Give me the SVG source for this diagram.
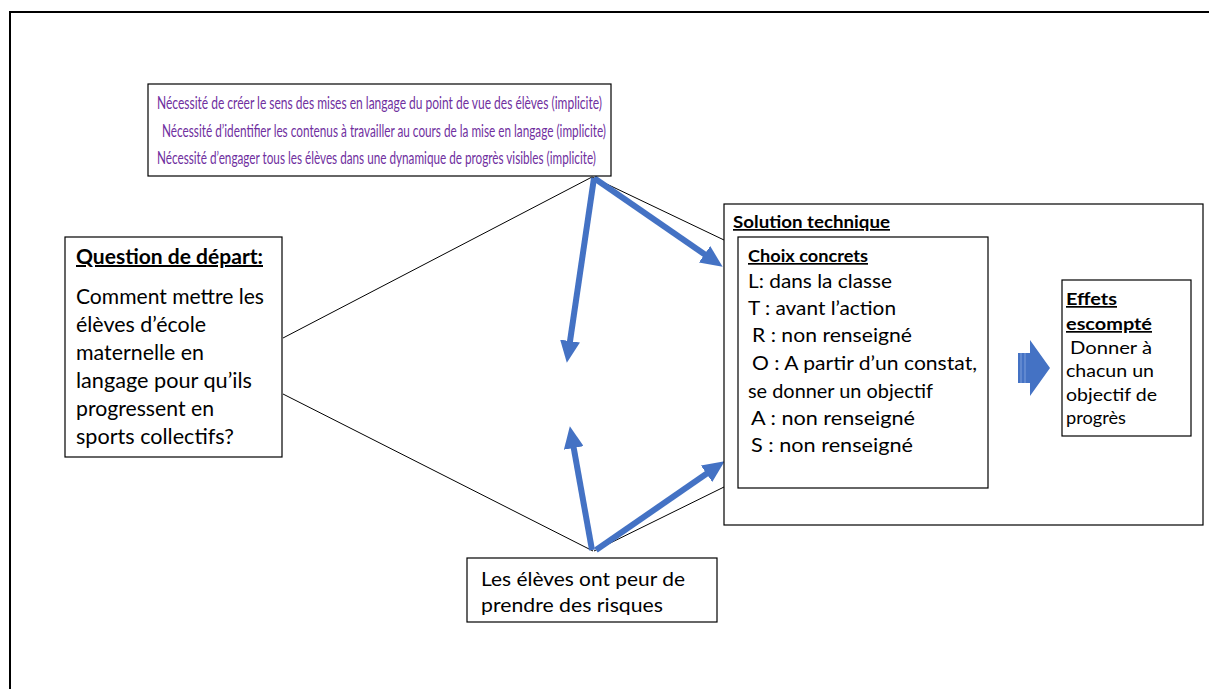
<svg xmlns="http://www.w3.org/2000/svg" width="1209" height="689" viewBox="0 0 1209 689">
<defs>
<style>
.box{fill:#fff;stroke:#000;stroke-width:1.2}
.t{font-family:Lato,"Open Sans","Liberation Sans",sans-serif;fill:#000}
.p{fill:#7030A0;font-size:18px}
.b{font-weight:bold;text-decoration:underline}
.thin{stroke:#000;stroke-width:1;fill:none}
.blue{stroke:#4472C4;stroke-width:6;fill:none;marker-end:url(#ah)}
</style>
<marker id="ah" markerUnits="userSpaceOnUse" markerWidth="24" markerHeight="20" refX="3" refY="10" orient="auto">
<path d="M0,0 L22,10 L0,20 z" fill="#4472C4"/>
</marker>
</defs>
<rect width="1209" height="689" fill="#fff"/>
<path d="M10,700 L10,12 L1220,12" fill="none" stroke="#000" stroke-width="2"/>

<g id="connectors">
<line class="thin" x1="283" y1="338" x2="592" y2="177"/>
<line class="thin" x1="283" y1="394" x2="593" y2="551"/>
<line class="thin" x1="592" y1="177" x2="724" y2="240"/>
<line class="thin" x1="594" y1="551" x2="724" y2="487"/>
<line class="blue" x1="594" y1="178" x2="707" y2="256"/>
<line class="blue" x1="594" y1="178" x2="569.6" y2="344"/>
<line class="blue" x1="592" y1="550" x2="573.2" y2="445"/>
<line class="blue" x1="596" y1="550" x2="709" y2="472"/>
</g>

<g id="top">
<rect class="box" x="148" y="84" width="463" height="92"/>
<text class="t p" x="157" y="109" textLength="445" lengthAdjust="spacingAndGlyphs">Nécessité de créer le sens des mises en langage du point de vue des élèves (implicite)</text>
<text class="t p" x="162" y="137" textLength="444" lengthAdjust="spacingAndGlyphs">Nécessité d’identifier les contenus à travailler au cours de la mise en langage (implicite)</text>
<text class="t p" x="157" y="164" textLength="439" lengthAdjust="spacingAndGlyphs">Nécessité d’engager tous les élèves dans une dynamique de progrès visibles (implicite)</text>
</g>

<g id="question">
<rect class="box" x="65" y="237" width="217" height="220"/>
<text class="t b" x="76" y="264" font-size="20" textLength="187" lengthAdjust="spacingAndGlyphs">Question de départ:</text>
<g class="t" font-size="21">
<text x="76" y="304" textLength="188" lengthAdjust="spacingAndGlyphs">Comment mettre les</text>
<text x="76" y="332" textLength="130" lengthAdjust="spacingAndGlyphs">élèves d’école</text>
<text x="76" y="360" textLength="128" lengthAdjust="spacingAndGlyphs">maternelle en</text>
<text x="76" y="388" textLength="176" lengthAdjust="spacingAndGlyphs">langage pour qu’ils</text>
<text x="76" y="416" textLength="138" lengthAdjust="spacingAndGlyphs">progressent en</text>
<text x="76" y="444" textLength="158" lengthAdjust="spacingAndGlyphs">sports collectifs?</text>
</g>
</g>

<g id="solution">
<rect class="box" x="724" y="204" width="479" height="321"/>
<text class="t b" x="733" y="228" font-size="17" textLength="157" lengthAdjust="spacingAndGlyphs">Solution  technique</text>
</g>

<g id="choix">
<rect class="box" x="738" y="237" width="250" height="251"/>
<text class="t b" x="748" y="262" font-size="17" textLength="120" lengthAdjust="spacingAndGlyphs">Choix  concrets</text>
<g class="t" font-size="20">
<text x="748" y="288" textLength="144" lengthAdjust="spacingAndGlyphs">L: dans la classe</text>
<text x="748" y="315" textLength="148" lengthAdjust="spacingAndGlyphs">T : avant l’action</text>
<text x="752" y="342" textLength="160" lengthAdjust="spacingAndGlyphs">R : non renseigné</text>
<text x="752" y="370" textLength="225" lengthAdjust="spacingAndGlyphs">O : A partir d’un constat,</text>
<text x="748" y="398" textLength="185" lengthAdjust="spacingAndGlyphs">se donner un objectif</text>
<text x="751" y="425" textLength="164" lengthAdjust="spacingAndGlyphs">A : non renseigné</text>
<text x="751" y="452" textLength="162" lengthAdjust="spacingAndGlyphs">S : non renseigné</text>
</g>
</g>

<g id="bigarrow">
<polygon points="1018,353 1030,353 1030,340 1050,368 1030,396 1030,383 1018,383" fill="#4472C4"/>
<line x1="1021" y1="353" x2="1021" y2="383" stroke="#7c9edb" stroke-width="1"/>
<line x1="1025" y1="353" x2="1025" y2="383" stroke="#7c9edb" stroke-width="1"/>
</g>

<g id="effets">
<rect class="box" x="1062" y="280" width="129" height="156"/>
<text class="t b" x="1066" y="305" font-size="17" textLength="51" lengthAdjust="spacingAndGlyphs">Effets</text>
<text class="t b" x="1066" y="330" font-size="17" textLength="86" lengthAdjust="spacingAndGlyphs">escompté</text>
<g class="t" font-size="17">
<text x="1070" y="354" textLength="82" lengthAdjust="spacingAndGlyphs">Donner à</text>
<text x="1066" y="377" textLength="88" lengthAdjust="spacingAndGlyphs">chacun un</text>
<text x="1066" y="401" textLength="91" lengthAdjust="spacingAndGlyphs">objectif de</text>
<text x="1066" y="424" textLength="60" lengthAdjust="spacingAndGlyphs">progrès</text>
</g>
</g>

<g id="bottom">
<rect class="box" x="467" y="558" width="250" height="64"/>
<g class="t" font-size="20">
<text x="481" y="586" textLength="204" lengthAdjust="spacingAndGlyphs">Les élèves ont peur de</text>
<text x="481" y="612" textLength="182" lengthAdjust="spacingAndGlyphs">prendre des risques</text>
</g>
</g>
</svg>
